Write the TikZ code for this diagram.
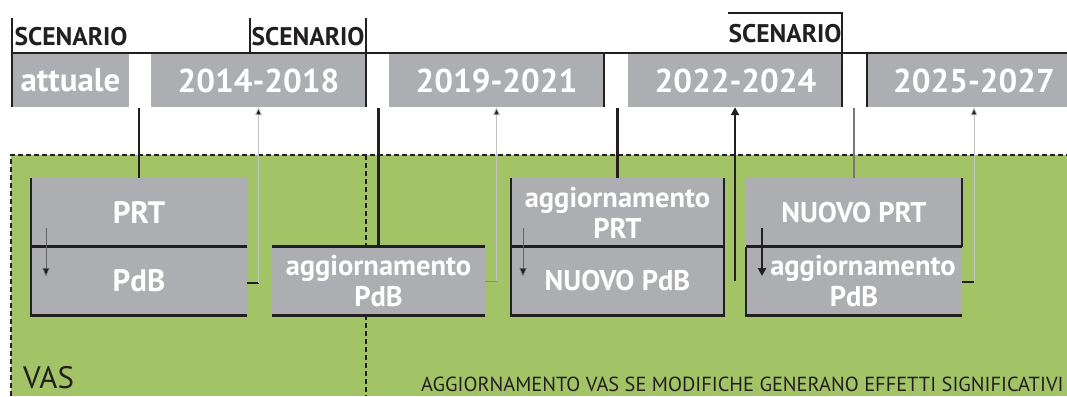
\documentclass[tikz,border=0pt]{standalone}
\usepackage{fontspec}
\setmainfont{PT Sans}
\usetikzlibrary{arrows.meta}
\definecolor{vasgreen}{RGB}{163,196,102}
\definecolor{boxgray}{RGB}{173,174,178}
\definecolor{ink}{RGB}{35,31,32}
\definecolor{thingray}{RGB}{195,195,195}
\definecolor{midgray}{RGB}{120,120,120}
\begin{document}
\begin{tikzpicture}[x=1pt,y=-1pt,
  yearbox/.style={rectangle,fill=boxgray,inner sep=0pt,minimum height=53pt,text=white,font=\bfseries\fontsize{33}{36}\selectfont},
  procbox/.style={rectangle,fill=boxgray,inner sep=0pt,minimum height=68.5pt,text=white,align=center,font=\bfseries\fontsize{28.5}{31}\selectfont},
  bigproc/.style={procbox,font=\bfseries\fontsize{31}{33}\selectfont},
  scen/.style={text=ink,inner sep=0pt,font=\bfseries\fontsize{25.5}{27}\selectfont},
  heavy/.style={draw=ink,line width=2.4pt},
  frame/.style={draw=ink,line width=2.4pt,dash pattern=on 5pt off 3pt},
  thinarrow/.style={draw=thingray,line width=0.9pt,-{Triangle[length=8pt,width=7pt,fill=ink]}},
  darkarrow/.style={draw=ink,line width=2.2pt,-{Triangle[length=8pt,width=8pt]}},
  smallarrow/.style={draw=ink!70,line width=0.6pt,-{Triangle[length=8pt,width=7pt,fill=ink]}},
  label/.style={text=ink,inner sep=0pt,anchor=base west}
]
\useasboundingbox (0,0) rectangle (1067,396);
% green VAS area
\fill[vasgreen] (11,155) rectangle (1067,396);
\draw[frame] (11,396) -- (11,155) -- (1067,155);
\draw[frame] (366,155) -- (366,396);

% year boxes
\node[yearbox,minimum width=117pt] (att) at (70.5,80.5) {attuale};
\node[yearbox,minimum width=215pt] (y1) at (258.5,80.5) {2014-2018};
\node[yearbox,minimum width=215pt] (y2) at (496.5,80.5) {2019-2021};
\node[yearbox,minimum width=215pt] (y3) at (735.5,80.5) {2022-2024};
\node[yearbox,minimum width=214pt] (y4) at (974,80.5) {2025-2027};

% header lines
\draw[heavy] (12,53) -- (1067,53);
\draw[heavy] (12,18) -- (12,107);
\draw[heavy] (250,18) -- (250,53);
\draw[heavy] (366,18) -- (366,107);
\draw[heavy] (604,53) -- (604,107);
\draw[heavy] (728,13) -- (842,13) -- (842,107);
\draw[heavy] (867,53) -- (867,107);

% scenario labels
\node[scen] (s1) at (71,36.5) {SCENARIO};
\node[scen] (s2) at (308,36.5) {SCENARIO};
\node[scen] (s3) at (785,34) {SCENARIO};

% process boxes
\node[bigproc,minimum width=216pt] (b1a) at (139,212.5) {PRT};
\node[bigproc,minimum width=216pt] (b1b) at (139,281) {PdB};
\node[procbox,minimum width=213pt] (b2) at (378.5,281) {aggiornamento\\PdB};
\node[procbox,minimum width=213pt] (b3a) at (617.5,212.5) {aggiornamento\\PRT};
\node[procbox,minimum width=213pt] (b3b) at (617.5,281) {NUOVO PdB};
\node[procbox,minimum width=216pt] (b4a) at (854,212.5) {NUOVO PRT};
\node[procbox,minimum width=216pt] (b4b) at (854,281) {\hspace*{18pt}aggiornamento\\PdB};

% box borders
\draw[heavy] (b1a.north west) -- (b1b.south west) -- (b1b.south east);
\draw[heavy] (b1b.north west) -- (b1b.north east);
\draw[heavy] (b2.north west) -- (b2.north east);
\draw[heavy] (b2.south west) -- (b2.south east);
\draw[heavy] (b3a.north west) -- (b3b.south west) -- (b3b.south east) -- (b3a.north east);
\draw[heavy] (b3b.north west) -- (b3b.north east);
\draw[heavy] (b4a.north east) -- (b4a.south east);
\draw[heavy] (b4b.north west) -- (b4b.north east);
\draw[heavy] (b4b.north west) -- (b4b.south west) -- (b4b.south east);

% connectors
\coordinate (g1) at (139,108);
\coordinate (g2) at (378.5,108);
\coordinate (g3) at (617.5,108);
\coordinate (g4) at (854,108);
\coordinate (k1) at (258.5,283);
\coordinate (k2) at (496.5,281);
\coordinate (k3) at (735,281);
\coordinate (k4) at (974,282);
\draw[heavy] (g1) -- (b1a.north);
\draw[heavy] (g2) -- (b2.north);
\draw[heavy] (g3) -- (b3a.north);
\draw[draw=midgray,line width=1.2pt] (g4) -- (b4a.north);

\draw[heavy] (b1b.east |- k1) -- (k1);
\draw[thinarrow] (k1) -- (y1.south);
\draw[draw=thingray!70!black,line width=0.9pt] (b2.east |- k2) -- (k2);
\draw[thinarrow] (k2) -- (y2.south);
\draw[darkarrow] (k3) -- (k3 |- y3.south);
\draw[heavy] (b4b.east |- k4) -- (k4);
\draw[thinarrow] (k4) -- (y4.south);

% small arrows inside boxes
\coordinate (a1s) at (46,228);
\coordinate (a1e) at (46,276);
\coordinate (a3s) at (523,228);
\coordinate (a3e) at (523,276);
\coordinate (a4s) at (762,228);
\coordinate (a4e) at (762,276);
\draw[smallarrow] (a1s) -- (a1e);
\draw[smallarrow] (a3s) -- (a3e);
\draw[draw=ink,line width=2pt,-{Triangle[length=8pt,width=8pt]}] (a4s) -- (a4e);

% bottom labels
\node[label,font=\fontsize{31}{33}\selectfont] (vas) at (23,388) {VAS};
\node[label,font=\fontsize{20.4}{22}\selectfont] (agg) at (421,391) {AGGIORNAMENTO VAS SE MODIFICHE GENERANO EFFETTI SIGNIFICATIVI};
\end{tikzpicture}
\end{document}
